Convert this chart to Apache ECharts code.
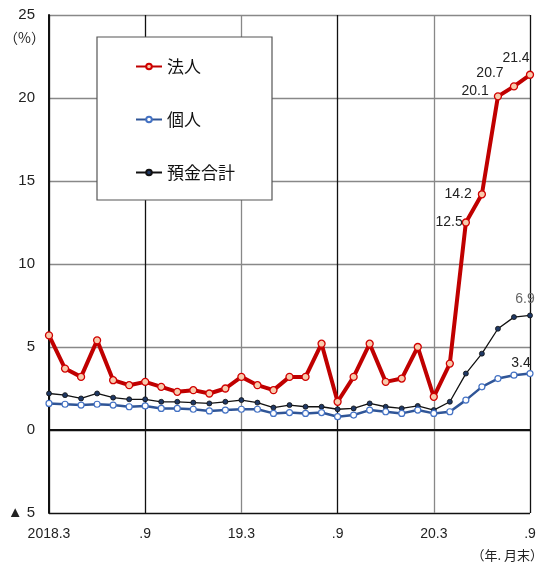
<!DOCTYPE html>
<html>
<head>
<meta charset="utf-8">
<script src="https://cdn.jsdelivr.net/npm/echarts@6/dist/echarts.min.js"></script>
<style>
  html, body { margin: 0; padding: 0; background: #fff; }
  #chart { width: 544px; height: 565px; }
</style>
</head>
<body>
<div id="chart"></div>
<script>
// Months (end of month), March 2018 to September 2020
const months = [
  '2018.3', '2018.4', '2018.5', '2018.6', '2018.7', '2018.8', '2018.9',
  '2018.10', '2018.11', '2018.12', '2019.1', '2019.2', '2019.3',
  '2019.4', '2019.5', '2019.6', '2019.7', '2019.8', '2019.9',
  '2019.10', '2019.11', '2019.12', '2020.1', '2020.2', '2020.3',
  '2020.4', '2020.5', '2020.6', '2020.7', '2020.8', '2020.9'
];
// Axis tick labels shown every six months
const tickLabels = {
  '2018.3': '2018.3', '2018.9': '.9', '2019.3': '19.3',
  '2019.9': '.9', '2020.3': '20.3', '2020.9': '.9'
};

// Year-on-year growth of deposits (%)
const corporate = [5.7, 3.7, 3.2, 5.4, 3.0, 2.7, 2.9, 2.6, 2.3, 2.4, 2.2, 2.5, 3.2,
  2.7, 2.4, 3.2, 3.2, 5.2, 1.7, 3.2, 5.2, 2.9, 3.1, 5.0, 2.0, 4.0, 12.5, 14.2, 20.1, 20.7, 21.4];
const individual = [1.6, 1.55, 1.5, 1.55, 1.5, 1.4, 1.45, 1.3, 1.3, 1.25, 1.15, 1.2, 1.25,
  1.25, 1.0, 1.05, 1.0, 1.05, 0.8, 0.9, 1.2, 1.1, 1.0, 1.2, 1.0, 1.1, 1.8, 2.6, 3.1, 3.3, 3.4];
const total = [2.2, 2.1, 1.9, 2.2, 1.95, 1.85, 1.85, 1.7, 1.7, 1.65, 1.6, 1.7, 1.8,
  1.65, 1.35, 1.5, 1.4, 1.4, 1.25, 1.3, 1.6, 1.4, 1.3, 1.45, 1.2, 1.7, 3.4, 4.6, 6.1, 6.8, 6.9];

const seriesNames = ['法人', '個人', '預金合計'];

const FONT = '"Liberation Sans", "Noto Sans CJK JP", sans-serif';
const JP_FONT = '"Noto Sans CJK JP", sans-serif';

// Value labels: index -> label placement
const corporateLabels = {
  26: { position: 'left', offset: [6, 0] },
  27: { position: 'left', offset: [-1, 0] },
  28: { position: 'left', offset: [0, -5] },
  29: { position: 'top', offset: [-24, 3] },
  30: { position: 'top', offset: [-14, 0] }
};
const individualLabels = { 30: { position: 'top', offset: [-9, 5], color: '#222' } };
const totalLabels = { 30: { position: 'top', offset: [-5, -1], color: '#666' } };

function withLabels(values, labels) {
  return values.map((v, i) => {
    const l = labels[i];
    if (!l) return v;
    return {
      value: v,
      label: {
        show: true,
        position: l.position,
        offset: l.offset,
        fontSize: 14,
        fontFamily: FONT,
        color: l.color || '#222',
        formatter: (p) => p.value.toFixed(1)
      }
    };
  });
}

const chart = echarts.init(document.getElementById('chart'), null, { renderer: 'canvas' });

chart.setOption({
  animation: false,
  backgroundColor: '#fff',
  grid: { left: 49, right: 14, top: 15, bottom: 52 },
  legend: {
    orient: 'vertical',
    left: 97,
    top: 37,
    padding: [21, 37, 19, 38],
    itemGap: 36,
    itemWidth: 26,
    itemHeight: 7,
    backgroundColor: '#fff',
    borderColor: '#555',
    borderWidth: 1.2,
    borderRadius: 0,
    textStyle: { fontSize: 17, fontFamily: JP_FONT, color: '#111' },
    data: seriesNames
  },
  xAxis: {
    type: 'category',
    data: months,
    boundaryGap: false,
    axisLine: { show: true, lineStyle: { color: '#111', width: 1.5 } },
    axisTick: { show: false },
    axisLabel: {
      interval: 5,
      margin: 14,
      fontSize: 14,
      fontFamily: FONT,
      color: '#222',
      formatter: (v) => tickLabels[v] || ''
    },
    splitLine: {
      show: true,
      interval: 5,
      lineStyle: { color: ['#111', '#111', '#888', '#111', '#888', '#111'], width: 1.3 }
    }
  },
  yAxis: {
    type: 'value',
    min: -5,
    max: 25,
    interval: 5,
    axisLine: { show: true, lineStyle: { color: '#111', width: 2 } },
    axisTick: { show: false },
    axisLabel: {
      margin: 14,
      fontSize: 15,
      fontFamily: FONT,
      color: '#222',
      formatter: (v) => (v < 0 ? '▲ ' + Math.abs(v) : String(v))
    },
    splitLine: {
      show: true,
      lineStyle: { color: ['#111', '#111', '#888', '#888', '#888', '#888', '#888'], width: 1.3 }
    }
  },
  graphic: [
    {
      type: 'text',
      left: 4,
      top: 31,
      style: { text: '（%）', fontSize: 14, fontFamily: JP_FONT, fill: '#222' }
    },
    {
      type: 'text',
      right: 1,
      top: 549,
      style: { text: '（年. 月末）', fontSize: 13, fontFamily: JP_FONT, fill: '#222' }
    }
  ],
  series: [
    {
      name: '預金合計',
      type: 'line',
      data: withLabels(total, totalLabels),
      z: 3,
      symbol: 'circle',
      symbolSize: 5,
      lineStyle: { color: '#111', width: 1.3 },
      itemStyle: { color: '#1F3864', borderColor: '#111', borderWidth: 0.8 },
      markLine: {
        silent: true,
        symbol: 'none',
        label: { show: false },
        lineStyle: { color: '#111', width: 2, type: 'solid' },
        data: [{ yAxis: 0 }]
      }
    },
    {
      name: '個人',
      type: 'line',
      data: withLabels(individual, individualLabels),
      z: 4,
      symbol: 'circle',
      symbolSize: 6,
      lineStyle: { color: '#2F5597', width: 2.5 },
      itemStyle: { color: '#fff', borderColor: '#4472C4', borderWidth: 1.2 }
    },
    {
      name: '法人',
      type: 'line',
      data: withLabels(corporate, corporateLabels),
      z: 5,
      symbol: 'circle',
      symbolSize: 7,
      lineStyle: { color: '#C00000', width: 4 },
      itemStyle: { color: '#F8CBAD', borderColor: '#D00000', borderWidth: 1.3 }
    }
  ]
});
</script>
</body>
</html>
